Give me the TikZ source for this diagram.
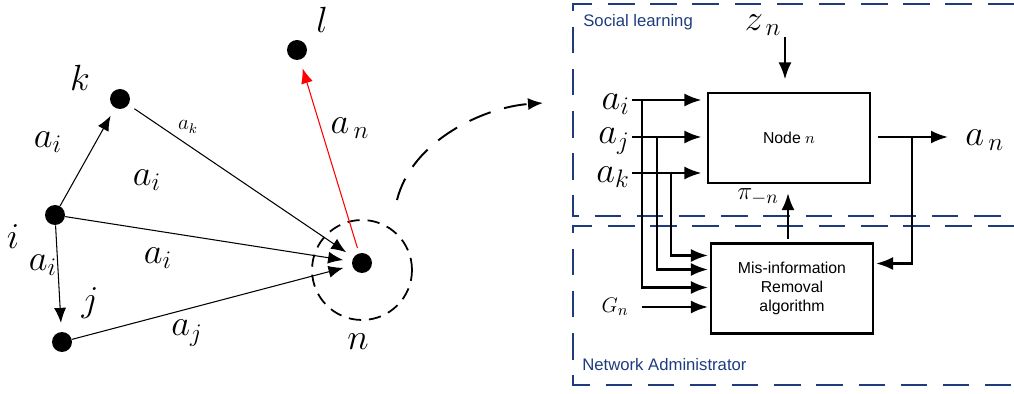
\documentclass[tikz,border=0pt]{standalone}
\usepackage{fontspec}
\setsansfont{Liberation Sans}
\usetikzlibrary{arrows.meta, positioning, calc}
\definecolor{admblue}{RGB}{30,60,125}

\begin{document}
\begin{tikzpicture}[x=0.02cm, y=-0.02cm,
      dot/.style={circle, fill=black, inner sep=0pt, minimum size=4mm},
      lbl/.style={font=\fontsize{20}{24}\selectfont, inner sep=0pt},
      slbl/.style={font=\fontsize{12}{14}\selectfont, inner sep=0pt},
      edge/.style={-{Latex[length=3mm,width=2.4mm]}, semithick, shorten >=5pt},
      zone/.style={admblue, line width=1.6pt, dash pattern=on 15pt off 9pt},
      zonetxt/.style={admblue, font=\sffamily\fontsize{9.5}{11}\selectfont, anchor=west, inner sep=0pt},
      blk/.style={draw, line width=1.5pt, align=center, minimum width=3.24cm, minimum height=1.8cm, font=\sffamily\fontsize{9}{11}\selectfont},
      sig/.style={-{Latex[length=3.4mm,width=2.6mm]}, line width=1.3pt}]
    \useasboundingbox (0,0) rectangle (1014,394);

    % network of agents
    \node[dot] (i) at (55,215) {};   \node[lbl] (il) at (13,237) {$i$};
    \node[dot] (k) at (120,99) {};   \node[lbl] (kl) at (80,78) {$k$};
    \node[dot] (j) at (62,342) {};   \node[lbl] (jl) at (90,303) {$j$};
    \node[dot] (n) at (362,263) {};  \node[lbl] (nl) at (358,342) {$n$};
    \node[dot] (l) at (297,50) {};   \node[lbl] (ll) at (322,20) {$l$};
    \node[draw, circle, line width=1pt, dash pattern=on 7pt off 4.5pt, minimum size=2cm] (ring) at (362,270) {};

    \draw[edge] (i) -- (k);
    \draw[edge] (i) -- (j);
    \draw[edge] (i) -- (n);
    \draw[edge, shorten <=4pt] (k) -- (n);
    \draw[edge] (j) -- (n);
    \draw[edge, red, shorten <=3pt] (n) -- (l);

    \node[lbl] (e1) at (48,142) {$a_i$};
    \node[slbl] (e2) at (188,127) {$a_k$};
    \node[lbl] (e3) at (147,180) {$a_i$};
    \node[lbl] (e4) at (158,258) {$a_i$};
    \node[lbl] (e5) at (43,265) {$a_i$};
    \node[lbl] (e6) at (187,333) {$a_j$};
    \node[lbl] (e7) at (350,128) {$a_{\,n}$};

    % zoom into node n
    \coordinate (arcs) at (397,200); \coordinate (arce) at (543,103);
    \draw[-{Latex[length=3mm,width=2.4mm]}, line width=1.1pt, dash pattern=on 13pt off 8pt]
      (arcs) .. controls (412,140) and (485,107) .. (arce);

    % administrator zones
    \draw[zone] (1014,4) -- (573,4) -- (573,216) -- (1014,216);
    \draw[zone] (1014,226) -- (573,226) -- (573,385) -- (1014,385);
    \node[zonetxt] (zs) at (583,22) {Social learning};
    \node[zonetxt] (za) at (582,365) {Network Administrator};

    % blocks
    \node[blk] (node) at (789,138) {Node $n$};
    \node[blk] (mis) at (792,288.5) {Mis-information\\Removal\\algorithm};

    % inputs of node n
    \node[lbl, anchor=east] (ai) at (630,104) {$a_i$};
    \node[lbl, anchor=east] (aj) at (630,141) {$a_j$};
    \node[lbl, anchor=east] (ak) at (630,177) {$a_k$};
    \coordinate (ci) at (632,100); \coordinate (cj) at (632,137); \coordinate (ck) at (632,173);
    \draw[sig, shorten >=3pt] (ci) -- (ci -| node.west);
    \draw[sig, shorten >=3pt] (cj) -- (cj -| node.west);
    \draw[sig, shorten >=3pt] (ck) -- (ck -| node.west);

    \node[lbl] (zn) at (763,25) {$z_{\,n}$};
    \coordinate (cz) at (785,37);
    \draw[sig, shorten >=7pt] (cz) -- (cz |- node.north);

    % branches to the removal block
    \coordinate (bi) at (642,100); \coordinate (bj) at (657,137); \coordinate (bk) at (671,173);
    \draw[sig, shorten >=1pt] (bk) |- ($(mis.west)+(0,-33)$);
    \draw[sig, shorten >=1pt] (bj) |- ($(mis.west)+(0,-19)$);
    \draw[sig, shorten >=1pt] (bi) |- ($(mis.west)+(0,-1)$);
    \node[font=\fontsize{13}{15}\selectfont, inner sep=0pt] (gn) at (615,307) {$G_n$};
    \coordinate (cg) at (642,307);
    \draw[sig, shorten >=1pt] (cg) -- (cg -| mis.west);

    % feedback and output
    \coordinate (pm) at ($(mis.north)+(-4,0)$);
    \draw[sig, shorten <=2pt, shorten >=5pt] (pm) -- (pm |- node.south);
    \node[font=\fontsize{15}{17}\selectfont, inner sep=0pt] (pin) at (758,197) {$\pi_{-n}$};
    \coordinate (out) at (948,137);
    \draw[sig, shorten <=4pt] (node.east |- out) -- (out);
    \node[lbl, anchor=west] (an) at (965,140) {$a_{\,n}$};
    \coordinate (bo) at (912,137);
    \draw[sig, shorten >=1pt] (bo) |- ($(mis.east)+(0,-25)$);
  \end{tikzpicture}
\end{document}
